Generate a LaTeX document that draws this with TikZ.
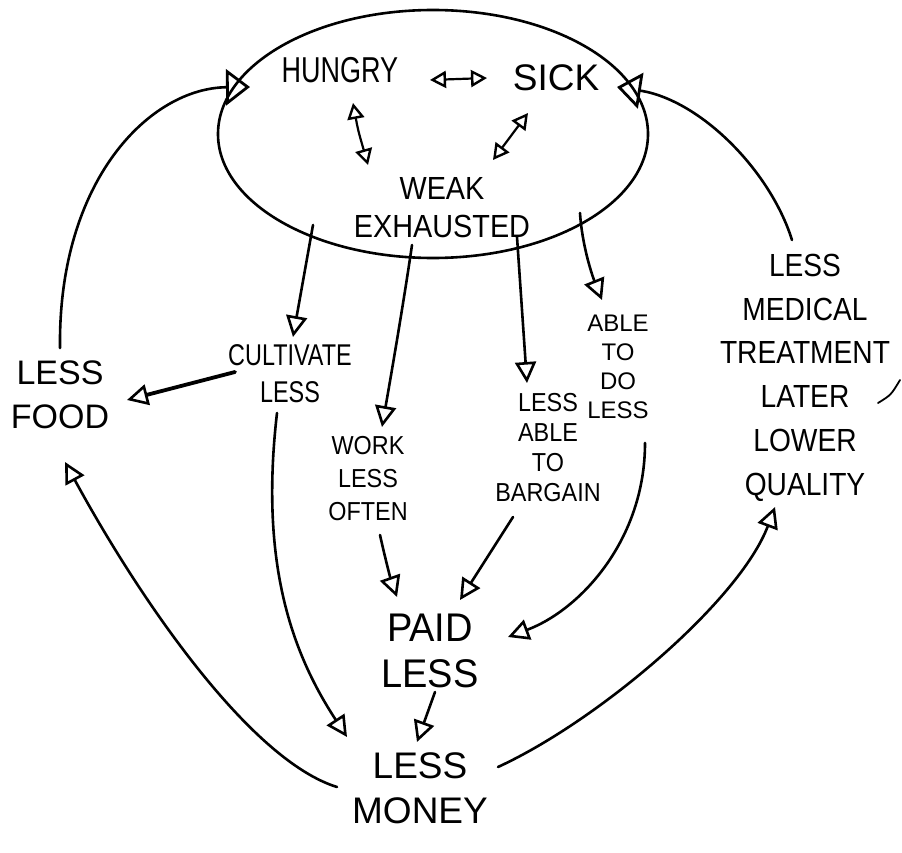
\documentclass[tikz,border=0pt]{standalone}
\usepackage{graphicx}
\usepackage{fontspec}
\setmainfont{Liberation Sans}
\usetikzlibrary{arrows.meta,shapes.geometric}

% hand-lettered label: horizontal squeeze, font size, line spacing, lines
\newcommand\handtext[4]{\fontsize{#2}{#3}\selectfont\scalebox{#1}[1]{\begin{tabular}{@{}c@{}}#4\end{tabular}}}

\tikzset{
  pen/.style={line width=2.6pt, line cap=round, line join=round},
  lbl/.style={inner sep=0pt, text=black},
  arr/.style={pen, -{Triangle[open, length=21pt, width=21pt, line width=2.6pt]}},
  bigarr/.style={pen, -{Triangle[open, length=24pt, width=36pt, line width=2.8pt]}},
  twoway/.style={pen, line width=2.2pt, {Triangle[open, length=16pt, width=17pt, line width=2.4pt]}-{Triangle[open, length=16pt, width=17pt, line width=2.4pt]}},
}

\begin{document}
\begin{tikzpicture}[x=1pt, y=-1pt]
  \useasboundingbox (0,0) rectangle (902,853);

  % the inner circle of conditions
  \node[ellipse, draw, pen, minimum width=430pt, minimum height=248pt, inner sep=0pt] (cloud) at (433,134) {};
  \node[lbl] (hungry) at (340,75) {\handtext{0.75}{36pt}{40pt}{HUNGRY}};
  \node[lbl] (sick) at (556,83) {\handtext{1}{37pt}{40pt}{SICK}};
  \node[lbl] (weak) at (442,211) {\handtext{0.9}{32pt}{38pt}{WEAK\\EXHAUSTED}};

  % consequences
  \node[lbl] (food) at (60,398) {\handtext{1}{34pt}{44pt}{LESS\\FOOD}};
  \node[lbl] (cult) at (290,377) {\handtext{0.78}{30pt}{37pt}{CULTIVATE\\LESS}};
  \node[lbl] (work) at (368,481) {\handtext{0.9}{26pt}{33pt}{WORK\\LESS\\OFTEN}};
  \node[lbl] (barg) at (548,450) {\handtext{0.9}{26pt}{30pt}{LESS\\ABLE\\TO\\BARGAIN}};
  \node[lbl] (ado) at (618,369) {\handtext{1}{24pt}{29pt}{ABLE\\TO\\DO\\LESS}};
  \node[lbl] (med) at (805,377) {\handtext{0.88}{32pt}{43.8pt}{LESS\\MEDICAL\\TREATMENT\\LATER\\LOWER\\QUALITY}};
  \node[lbl] (paid) at (430,655) {\handtext{0.95}{40pt}{46pt}{PAID\\LESS}};
  \node[lbl] (money) at (420,792) {\handtext{1}{37pt}{45pt}{LESS\\MONEY}};

  % links inside the circle
  \draw[twoway] ([shift={(90,5)}]hungry.center) -- ([shift={(-69,-5)}]sick.center);
  \draw[twoway] ([shift={(13,28)}]hungry.center) .. controls (358,130) .. ([shift={(-74,-46)}]weak.center);
  \draw[twoway] ([shift={(-28,30)}]sick.center) -- ([shift={(51,-51)}]weak.center);

  % out of the circle
  \draw[arr] ([shift={(-120,91)}]cloud.center) -- ([shift={(3,-40)}]cult.center);
  \draw[arr] ([shift={(-21,111)}]cloud.center) .. controls (404,300) and (392,370) .. ([shift={(14,-54)}]work.center);
  \draw[arr] ([shift={(84,103)}]cloud.center) -- ([shift={(-21,-67)}]barg.center);
  \draw[arr] ([shift={(147,79)}]cloud.center) .. controls (582,245) and (592,275) .. ([shift={(-16,-69)}]ado.center);

  % feeding back into the circle
  \draw[bigarr] ([shift={(0,-50)}]food.center) .. controls (58,180) and (150,88) .. ([shift={(-183,-47)}]cloud.center);
  \draw[bigarr] ([shift={(-13,-137)}]med.center) .. controls (770,170) and (700,100) .. ([shift={(184,-47)}]cloud.center);

  % the rest of the chain
  \draw[arr, line width=3.8pt] ([shift={(-55,-5)}]cult.center) -- ([shift={(67,2)}]food.center);
  \draw[arr] ([shift={(-13,36)}]cult.center) .. controls (260,560) and (290,650) .. ([shift={(-73,-55)}]money.center);
  \draw[arr] ([shift={(12,54)}]work.center) .. controls (386,562) and (391,580) .. ([shift={(-33,-58)}]paid.center);
  \draw[arr] ([shift={(-35,67)}]barg.center) -- ([shift={(30,-55)}]paid.center);
  \draw[arr] ([shift={(27,74)}]ado.center) .. controls (645,540) and (580,610) .. ([shift={(78,-18)}]paid.center);
  \draw[arr] ([shift={(5,37)}]paid.center) -- ([shift={(-3,-50)}]money.center);
  \draw[arr] ([shift={(-83,-5)}]money.center) .. controls (250,760) and (140,600) .. ([shift={(5,64)}]food.center);
  \draw[arr] ([shift={(78,-25)}]money.center) .. controls (600,720) and (740,600) .. ([shift={(-30,130)}]med.center);

  % pen stroke beside TREATMENT
  \draw[pen, line width=1.8pt] (878,403) .. controls (891,395) .. (900,380);
\end{tikzpicture}
\end{document}
